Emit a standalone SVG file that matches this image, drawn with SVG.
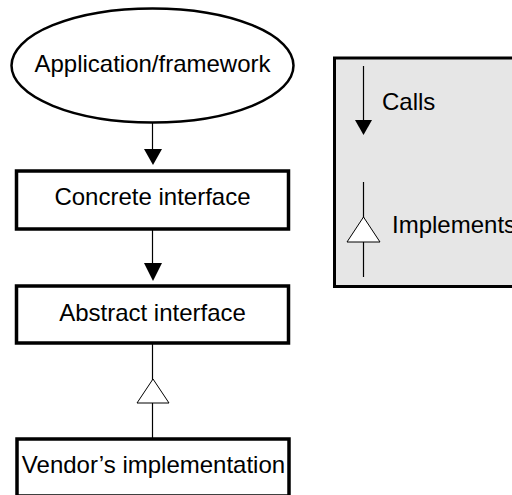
<svg xmlns="http://www.w3.org/2000/svg" width="512" height="495" viewBox="0 0 512 495">
<style>
text{font-family:"Liberation Sans",Arial,sans-serif;font-size:24px;fill:#000}
.box{fill:#fff;stroke:#000;stroke-width:3.5}
.ln{stroke:#000;stroke-width:1.2;fill:none}
.fill{fill:#000;stroke:none}
.hollow{fill:#fff;stroke:#000;stroke-width:1}
</style>
<rect width="512" height="495" fill="#fff"/>
<g id="legend">
<rect x="334.5" y="58" width="200" height="228.5" fill="#e6e6e6" stroke="#000" stroke-width="3"/>
<line class="ln" x1="363.5" y1="66" x2="363.5" y2="121"/>
<polygon class="fill" points="355,120 372,120 363.5,135"/>
<text x="382" y="110">Calls</text>
<line class="ln" x1="363.5" y1="182" x2="363.5" y2="277"/>
<polygon class="hollow" points="363.5,217 347,242 380,242"/>
<text x="392" y="233">Implements</text>
</g>
<g id="connectors">
<line class="ln" x1="152.5" y1="123" x2="152.5" y2="150"/>
<polygon class="fill" points="144,149 162,149 153,165"/>
<line class="ln" x1="152.5" y1="229" x2="152.5" y2="264"/>
<polygon class="fill" points="144,263 162,263 153,281"/>
<line class="ln" x1="152.5" y1="343" x2="152.5" y2="438"/>
<polygon class="hollow" points="153,379 137,403 169,403"/>
</g>
<g id="app">
<ellipse cx="152.5" cy="65.5" rx="141" ry="57" fill="#fff" stroke="#000" stroke-width="2.5"/>
<text x="152.5" y="72" text-anchor="middle">Application/framework</text>
</g>
<g id="concrete">
<rect class="box" x="16.5" y="171" width="272" height="58"/>
<text x="152.5" y="205" text-anchor="middle">Concrete interface</text>
</g>
<g id="abstract">
<rect class="box" x="16.5" y="286" width="272" height="57"/>
<text x="152.5" y="321" text-anchor="middle">Abstract interface</text>
</g>
<g id="vendor">
<rect class="box" x="17" y="439" width="272" height="57"/>
<text x="153.5" y="473" text-anchor="middle">Vendor’s implementation</text>
</g>
</svg>
